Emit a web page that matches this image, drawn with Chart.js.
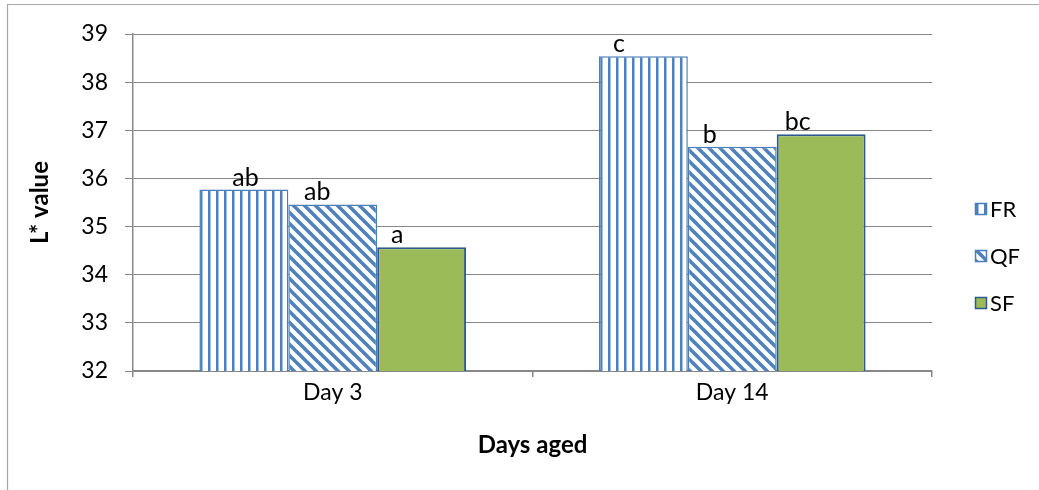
<!DOCTYPE html>
<html>
<head>
<meta charset="utf-8">
<script src="https://cdn.jsdelivr.net/npm/chart.js@4.4.1/dist/chart.umd.min.js"></script>
<style>
html,body{margin:0;padding:0;background:#fff;}
#wrap{width:1039px;height:490px;position:relative;}
</style>
</head>
<body>
<div id="wrap"><canvas id="c" width="1039" height="490"></canvas></div>
<script>
// ---- data ----
const categories = ['Day 3', 'Day 14'];
const seriesNames = ['FR', 'QF', 'SF'];
const frValues = [35.77, 38.54];
const qfValues = [35.46, 36.66];
const sfValues = [34.57, 36.92];
const frLetters = ['ab', 'c'];
const qfLetters = ['ab', 'b'];
const sfLetters = ['a', 'bc'];
const yTickValues = [32, 33, 34, 35, 36, 37, 38, 39];
const xTitle = 'Days aged';
const yTitle = 'L* value';

// ---- styles ----
const FONT = 'Lato, "Open Sans", sans-serif';
const BLUE = '#4F81BD';
const GRID = '#878787';

function vStripePattern() {
  const c = document.createElement('canvas');
  c.width = 8; c.height = 8;
  const g = c.getContext('2d');
  g.fillStyle = '#fff'; g.fillRect(0, 0, 8, 8);
  g.fillStyle = BLUE; g.fillRect(0, 0, 2.5, 8);
  return g.createPattern(c, 'repeat');
}
function diagPattern() {
  const s = 11;
  const c = document.createElement('canvas');
  c.width = s; c.height = s;
  const g = c.getContext('2d');
  g.fillStyle = '#fff'; g.fillRect(0, 0, s, s);
  g.strokeStyle = BLUE; g.lineWidth = 3.6; g.lineCap = 'square';
  for (let k = -1; k <= 1; k++) {
    g.beginPath(); g.moveTo(k * s, 0); g.lineTo(k * s + s, s); g.stroke();
  }
  return g.createPattern(c, 'repeat');
}

const letterSets = [frLetters, qfLetters, sfLetters];
const letterDx = [[46, 20], [29, 22], [20, 21]];

const labelPlugin = {
  id: 'barLetters',
  afterDatasetsDraw(chart) {
    const ctx = chart.ctx;
    ctx.save();
    ctx.font = '25px ' + FONT;
    ctx.fillStyle = '#000';
    ctx.textAlign = 'center';
    ctx.textBaseline = 'alphabetic';
    chart.data.datasets.forEach((ds, di) => {
      const meta = chart.getDatasetMeta(di);
      meta.data.forEach((bar, i) => {
        const left = bar.x - bar.width / 2;
        ctx.fillText(letterSets[di][i], left + letterDx[di][i], bar.y - 4);
      });
    });
    ctx.restore();
  }
};

const framePlugin = {
  id: 'frame',
  beforeDraw(chart) {
    const ctx = chart.ctx;
    ctx.save();
    ctx.fillStyle = '#fff';
    ctx.fillRect(0, 0, chart.width, chart.height);
    ctx.strokeStyle = '#a6a6a6';
    ctx.lineWidth = 1.2;
    ctx.beginPath();
    ctx.moveTo(7.5, chart.height); ctx.lineTo(7.5, 4.5); ctx.lineTo(chart.width, 4.5);
    ctx.stroke();
    ctx.restore();
  }
};

const legendPlugin = {
  id: 'customLegend',
  afterDraw(chart) {
    const ctx = chart.ctx;
    ctx.save();
    const ys = [209, 256, 303];
    chart.data.datasets.forEach((ds, i) => {
      const y = ys[i];
      ctx.fillStyle = ds.backgroundColor;
      ctx.fillRect(975, y - 6, 12, 12);
      ctx.strokeStyle = ds.borderColor;
      ctx.lineWidth = 1.5;
      ctx.strokeRect(975.5, y - 5.5, 11, 11);
      ctx.fillStyle = '#000';
      ctx.font = '22px ' + FONT;
      ctx.textAlign = 'left';
      ctx.textBaseline = 'middle';
      ctx.fillText(ds.label, 990, y + 1);
    });
    ctx.restore();
  }
};

new Chart(document.getElementById('c'), {
  type: 'bar',
  data: {
    labels: categories,
    datasets: [
      { label: seriesNames[0], data: frValues, backgroundColor: vStripePattern(), borderColor: '#4A7EBB', borderWidth: 1.5 },
      { label: seriesNames[1], data: qfValues, backgroundColor: diagPattern(), borderColor: '#4A7EBB', borderWidth: 1.5 },
      { label: seriesNames[2], data: sfValues, backgroundColor: '#9BBB59', borderColor: '#2C5A8C', borderWidth: 2 }
    ]
  },
  options: {
    responsive: false,
    animation: false,
    devicePixelRatio: 1,
    layout: { padding: { left: 8, top: 34, right: 107, bottom: 0 } },
    datasets: { bar: { categoryPercentage: 0.6675, barPercentage: 1.0, borderSkipped: 'bottom' } },
    plugins: { legend: { display: false }, tooltip: { enabled: false } },
    scales: {
      x: {
        afterFit(s) { s.height = 119; },
        grid: { offset: true, drawOnChartArea: false, drawTicks: true, tickLength: 6, color: GRID, lineWidth: 1.5 },
        border: { color: GRID, width: 1.5 },
        ticks: { color: '#000', font: { family: FONT, size: 23 }, padding: 2 },
        title: { display: true, text: xTitle, color: '#000', font: { family: FONT, size: 24, weight: 'bold' }, padding: { top: 0, bottom: 30 } }
      },
      y: {
        min: 32, max: 39,
        afterFit(s) { s.width = 125; },
        afterBuildTicks(s) { s.ticks = yTickValues.map(v => ({ value: v })); },
        grid: { color: GRID, lineWidth: 1, tickLength: 8, drawTicks: true },
        border: { color: GRID, width: 1.5 },
        ticks: { color: '#000', font: { family: FONT, size: 23 }, padding: 17 },
        title: { display: true, text: yTitle, color: '#000', font: { family: FONT, size: 24, weight: 'bold' }, padding: { top: 18, bottom: 0 } }
      }
    }
  },
  plugins: [framePlugin, labelPlugin, legendPlugin]
});
</script>
</body>
</html>
